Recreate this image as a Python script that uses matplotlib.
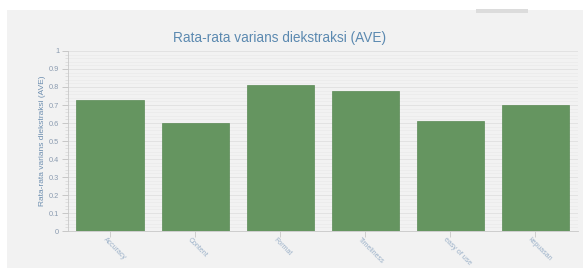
import matplotlib.pyplot as plt
import matplotlib.transforms as mtransforms
from matplotlib.patches import Rectangle
from matplotlib.ticker import MultipleLocator

plt.rcParams['font.family'] = ['Liberation Sans', 'DejaVu Sans']

categories = ['Accuracy', 'Content', 'Format', 'Timeliness', 'easy of use', 'kepuasan']
ave = [0.725, 0.60, 0.81, 0.78, 0.61, 0.70]

title = 'Rata-rata varians diekstraksi (AVE)'
ylabel = 'Rata-rata varians diekstraksi (AVE)'

W, H = 583, 268
fig = plt.figure(figsize=(W / 100, H / 100), dpi=100)
fig.patch.set_facecolor('#f2f2f2')

# white strips on top and left, and a grey box cut off at the top
fig.patches.append(Rectangle((0, (H - 10) / H), 1, 10 / H, transform=fig.transFigure,
                             facecolor='white', edgecolor='none', zorder=-1))
fig.patches.append(Rectangle((0, 0), 7 / W, 1, transform=fig.transFigure,
                             facecolor='white', edgecolor='none', zorder=-1))
fig.patches.append(Rectangle((476 / W, (H - 13) / H), 52 / W, 4 / H, transform=fig.transFigure,
                             facecolor='#dcdcdc', edgecolor='none', zorder=-1))

ax = fig.add_axes([67.5 / W, 37 / H, 510.5 / W, 180 / H])
ax.set_facecolor('#f2f2f2')
ax.set_zorder(2)

x = range(len(categories))
ax.bar(x, ave, width=0.79, color='#659560', edgecolor='#5a8a55', linewidth=0.5, zorder=3)

ax.set_xlim(-0.5, len(categories) - 0.5)
ax.set_ylim(0, 1)
ax.yaxis.set_major_locator(MultipleLocator(0.1))
ax.yaxis.set_minor_locator(MultipleLocator(0.02))
ax.grid(axis='y', which='major', color='#e2e2e2', linewidth=0.7, zorder=0)
ax.grid(axis='y', which='minor', color='#eaeaea', linewidth=0.5, zorder=0)

ax.set_yticks([i / 10 for i in range(11)])
ax.set_yticklabels(['0'] + [f'{i / 10:g}' for i in range(1, 10)] + ['1'])
ax.tick_params(axis='y', which='major', labelsize=5.3, colors='#c0c0c0', labelcolor='#8a9bb0',
               length=4, width=0.6, pad=2)
ax.tick_params(axis='y', which='minor', colors='#d0d0d0', length=2, width=0.4)

ax.set_xticks(list(x))
ax.set_xticklabels(categories, rotation=-45, ha='left', va='center', rotation_mode='anchor')
ax.tick_params(axis='x', labelsize=5, colors='#c8c8c8', labelcolor='#9ab0c8', length=4,
               width=0.6, pad=1.5)
shift = mtransforms.ScaledTranslation(-6 / 100, 0, fig.dpi_scale_trans)
for lbl in ax.get_xticklabels():
    lbl.set_transform(lbl.get_transform() + shift)

for side in ['top', 'right']:
    ax.spines[side].set_visible(False)
ax.spines['left'].set_color('#c8c8c8')
ax.spines['bottom'].set_color('#c8c8c8')
ax.spines['left'].set_linewidth(0.6)
ax.spines['bottom'].set_linewidth(0.6)

ax.set_ylabel(ylabel, fontsize=6, color='#6e8fb0', labelpad=2)
fig.text(280 / W, 1 - 38 / H, title, ha='center', va='center', fontsize=9.8, color='#5b89b0')

fig.savefig('out.png', dpi=100)
